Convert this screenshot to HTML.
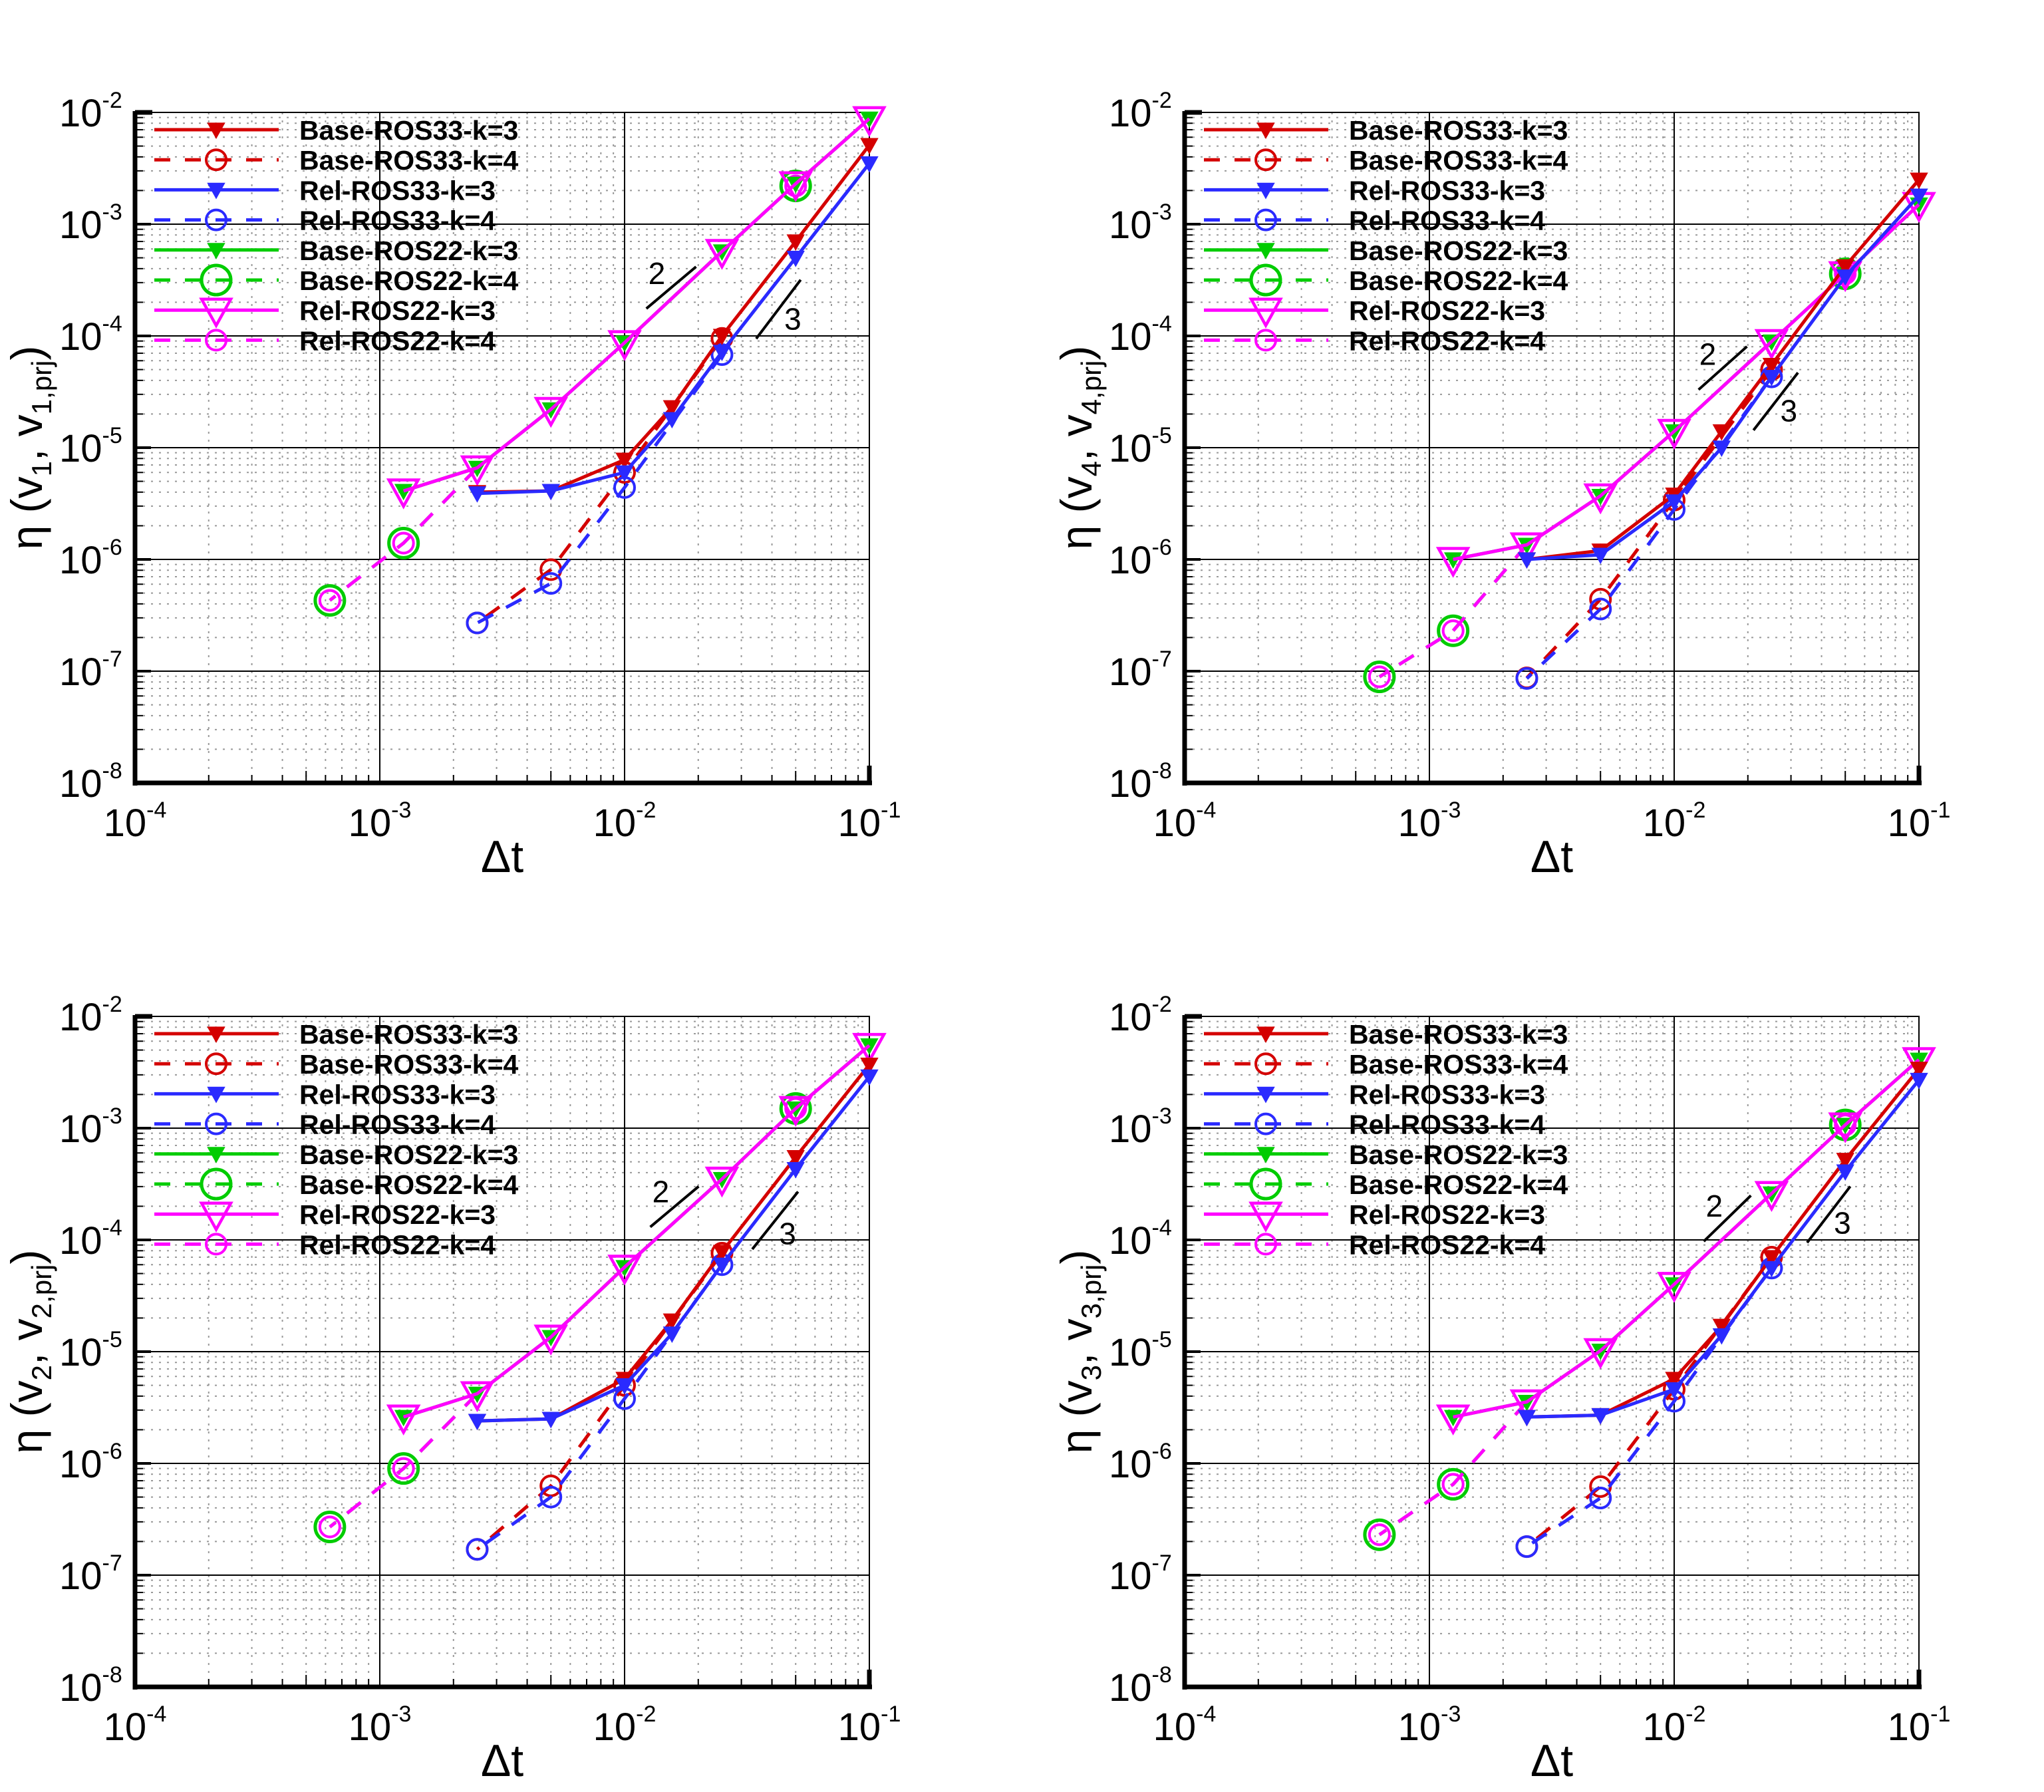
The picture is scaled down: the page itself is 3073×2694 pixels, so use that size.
<!DOCTYPE html>
<html><head><meta charset="utf-8"><style>
html,body{margin:0;padding:0;background:#fff}
svg{display:block}
text{font-family:"Liberation Sans",sans-serif}
</style></head><body>
<svg id="fig" xmlns="http://www.w3.org/2000/svg" width="3073" height="2694" viewBox="0 0 3073 2694"></svg>
<script>
// Δt values
const dtA = [0.1, 0.05, 0.025, 0.015625, 0.01, 0.005, 0.0025];
const dtB = [0.025, 0.01, 0.005, 0.0025];
const dtC = [0.1, 0.05, 0.025, 0.01, 0.005, 0.0025, 0.00125];
const dtE = [0.05, 0.0025, 0.00125, 0.000625];

// Panel v1
const p1_base33k3 = [5.1e-3, 7.0e-4, 1.0e-4, 2.3e-5, 7.8e-6, 4.1e-6, 4.0e-6];
const p1_base33k4 = [9.5e-5, 6.0e-6, 8.1e-7, 2.7e-7];
const p1_rel33k3 = [3.5e-3, 5.0e-4, 7.2e-5, 1.8e-5, 6.0e-6, 4.1e-6, 3.9e-6];
const p1_rel33k4 = [6.8e-5, 4.4e-6, 6.1e-7, 2.7e-7];
const p1_ros22k3 = [8.8e-3, 2.3e-3, 5.7e-4, 8.7e-5, 2.2e-5, 6.6e-6, 4.1e-6];
const p1_ros22k4 = [2.2e-3, 6.6e-6, 1.4e-6, 4.3e-7];
// Panel v4
const p2_base33k3 = [2.5e-3, 4.2e-4, 5.5e-5, 1.4e-5, 3.8e-6, 1.2e-6, 1.0e-6];
const p2_base33k4 = [5.0e-5, 3.4e-6, 4.4e-7, 8.7e-8];
const p2_rel33k3 = [1.8e-3, 3.4e-4, 4.3e-5, 1.0e-5, 3.3e-6, 1.1e-6, 1.0e-6];
const p2_rel33k4 = [4.3e-5, 2.8e-6, 3.6e-7, 8.6e-8];
const p2_ros22k3 = [1.5e-3, 3.6e-4, 8.9e-5, 1.4e-5, 3.7e-6, 1.35e-6, 1.0e-6];
const p2_ros22k4 = [3.6e-4, 1.35e-6, 2.3e-7, 8.9e-8];
// Panel v2
const p3_base33k3 = [3.7e-3, 5.5e-4, 7.8e-5, 1.9e-5, 5.7e-6, 2.5e-6, 2.4e-6];
const p3_base33k4 = [7.6e-5, 5.0e-6, 6.3e-7, 1.7e-7];
const p3_rel33k3 = [2.9e-3, 4.3e-4, 6.0e-5, 1.45e-5, 5.0e-6, 2.5e-6, 2.4e-6];
const p3_rel33k4 = [6.0e-5, 3.8e-6, 5.0e-7, 1.7e-7];
const p3_ros22k3 = [5.5e-3, 1.5e-3, 3.5e-4, 5.7e-5, 1.35e-5, 4.2e-6, 2.6e-6];
const p3_ros22k4 = [1.5e-3, 4.2e-6, 9.0e-7, 2.7e-7];
// Panel v3
const p4_base33k3 = [3.4e-3, 5.2e-4, 7.0e-5, 1.7e-5, 5.7e-6, 2.7e-6, 2.6e-6];
const p4_base33k4 = [7.0e-5, 4.6e-6, 6.2e-7, 1.8e-7];
const p4_rel33k3 = [2.7e-3, 4.1e-4, 5.6e-5, 1.4e-5, 4.6e-6, 2.7e-6, 2.6e-6];
const p4_rel33k4 = [5.6e-5, 3.6e-6, 4.9e-7, 1.8e-7];
const p4_ros22k3 = [4.1e-3, 1.07e-3, 2.6e-4, 4.0e-5, 1.02e-5, 3.55e-6, 2.6e-6];
const p4_ros22k4 = [1.07e-3, 3.55e-6, 6.5e-7, 2.3e-7];

const xTickExps = [-4, -3, -2, -1];
const yTickExps = [-8, -7, -6, -5, -4, -3, -2];
const legendLabels = ["Base-ROS33-k=3","Base-ROS33-k=4","Rel-ROS33-k=3","Rel-ROS33-k=4","Base-ROS22-k=3","Base-ROS22-k=4","Rel-ROS22-k=3","Rel-ROS22-k=4"];

const NS = "http://www.w3.org/2000/svg";
const svg = document.getElementById('fig');
function mk(tag, attrs, parent){const e=document.createElementNS(NS,tag);for(const k in attrs)e.setAttribute(k,attrs[k]);(parent||svg).appendChild(e);return e;}

const PW=1104, PH=1008;
const RED="#d40000", BLUE="#2a2aff", GREEN="#00cc00", MAG="#ff00ff";

function marker(g, type, cx, cy, color){
  let e;
  if(type==='tri'){ const s=12; e=mk('polygon',{points:`${cx-s},${cy-s*0.8} ${cx+s},${cy-s*0.8} ${cx},${cy+s}`,fill:color,stroke:color,'stroke-width':2},g); }
  else if(type==='circ'){ e=mk('circle',{cx:cx,cy:cy,r:15,fill:'none',stroke:color,'stroke-width':4},g); }
  else if(type==='bigcirc'){ e=mk('circle',{cx:cx,cy:cy,r:22,fill:'none',stroke:color,'stroke-width':5},g); }
  else if(type==='bigtri'){ const s=22; e=mk('polygon',{points:`${cx-s},${cy-s*0.75} ${cx+s},${cy-s*0.75} ${cx},${cy+s*1.05}`,fill:'none',stroke:color,'stroke-width':4.5},g); }
  
  
}

const panels = [
  {ox:203, oy:169, sub:'1', sub2:'1,prj', d:[p1_base33k3,p1_base33k4,p1_rel33k3,p1_rel33k4,p1_ros22k3,p1_ros22k4], thumb:{l:104,t:87}, s2:[[495,237],[533,205],[503,210]], s3:[[579,260],[613,215],[607,245]], name:'panel-v1'},
  {ox:1781, oy:169, sub:'4', sub2:'4,prj', d:[p2_base33k3,p2_base33k4,p2_rel33k3,p2_rel33k4,p2_ros22k3,p2_ros22k4], thumb:{l:908,t:87}, s2:[[1301,299],[1338,266],[1308,272]], s3:[[1343,330],[1377,286],[1370,315]], name:'panel-v4'},
  {ox:203, oy:1528, sub:'2', sub2:'2,prj', d:[p3_base33k3,p3_base33k4,p3_rel33k3,p3_rel33k4,p3_ros22k3,p3_ros22k4], thumb:{l:104,t:780}, s2:[[498,941],[535,910],[506,914]], s3:[[576,958],[611,914],[603,946]], name:'panel-v2'},
  {ox:1781, oy:1528, sub:'3', sub2:'3,prj', d:[p4_base33k3,p4_base33k4,p4_rel33k3,p4_rel33k4,p4_ros22k3,p4_ros22k4], thumb:{l:908,t:780}, s2:[[1305,952],[1341,917],[1313,925]], s3:[[1384,953],[1417,910],[1411,938]], name:'panel-v3'}
];

panels.forEach(P=>{
  const g = mk('g',{});
  
  
  const X = v => P.ox + (Math.log10(v)+4)/3*PW;
  const Y = v => P.oy + (-2-Math.log10(v))/6*PH;
  for(let e=-4;e<-1;e++) for(let m=2;m<=9;m++){ const x=X(m*Math.pow(10,e));
    mk('line',{x1:x,y1:P.oy,x2:x,y2:P.oy+PH,stroke:'#999','stroke-width':2,'stroke-dasharray':'3 9'},g);
    mk('line',{x1:x,y1:P.oy+PH,x2:x,y2:P.oy+PH-(m===5?18:12),stroke:'#000','stroke-width':2},g); }
  for(let e=-8;e<-2;e++) for(let m=2;m<=9;m++){ const y=Y(m*Math.pow(10,e));
    mk('line',{x1:P.ox,y1:y,x2:P.ox+PW,y2:y,stroke:'#999','stroke-width':2,'stroke-dasharray':'3 9'},g);
    mk('line',{x1:P.ox,y1:y,x2:P.ox+12,y2:y,stroke:'#000','stroke-width':2},g); }
  xTickExps.forEach(e=>{ const x=X(Math.pow(10,e));
    mk('line',{x1:x,y1:P.oy,x2:x,y2:P.oy+PH,stroke:'#000','stroke-width':2},g);
    const t=mk('text',{x:x,y:P.oy+PH+80,'font-size':58,'text-anchor':'middle'},g);
     
    t.innerHTML=`10<tspan dy="-28" font-size="34">${e}</tspan>`; });
  yTickExps.forEach(e=>{ const y=Y(Math.pow(10,e));
    mk('line',{x1:P.ox,y1:y,x2:P.ox+PW,y2:y,stroke:'#000','stroke-width':2},g);
    mk('line',{x1:P.ox,y1:y,x2:P.ox+24,y2:y,stroke:'#000','stroke-width':4},g);
    const t=mk('text',{x:P.ox-114,y:y+21,'font-size':58,'text-anchor':'start'},g);
     
    t.innerHTML=`10<tspan dy="-28" font-size="34">${e}</tspan>`; });
  mk('rect',{x:P.ox,y:P.oy,width:PW,height:PH,fill:'none',stroke:'#000','stroke-width':2},g);
  mk('line',{x1:P.ox,y1:P.oy-2,x2:P.ox,y2:P.oy+PH+4,stroke:'#000','stroke-width':7},g);
  mk('line',{x1:P.ox-2,y1:P.oy+PH,x2:P.ox+PW+4,y2:P.oy+PH,stroke:'#000','stroke-width':7},g);
  mk('line',{x1:P.ox,y1:P.oy,x2:P.ox+26,y2:P.oy,stroke:'#000','stroke-width':7},g);
  mk('line',{x1:P.ox+PW,y1:P.oy+PH,x2:P.ox+PW,y2:P.oy+PH-26,stroke:'#000','stroke-width':7},g);
  const xt=mk('text',{x:P.ox+PW/2,y:P.oy+PH+134,'font-size':68,'text-anchor':'middle'},g);
   
  xt.textContent='Δt';
  const yt=mk('text',{x:0,y:0,'font-size':66,'text-anchor':'middle',transform:`translate(${P.ox-140},${P.oy+PH/2}) rotate(-90)`},g);
   
  yt.innerHTML=`η (v<tspan dy="14" font-size="42">${P.sub}</tspan><tspan dy="-14">, v</tspan><tspan dy="14" font-size="42">${P.sub2}</tspan><tspan dy="-14">)</tspan>`;
  const sc=3073/1563, tx=px=>P.ox+(px-P.thumb.l)*sc, ty=py=>P.oy+(py-P.thumb.t)*sc;
  [[P.s2,'2'],[P.s3,'3']].forEach(([s,lab])=>{
    const l=mk('line',{x1:tx(s[0][0]),y1:ty(s[0][1]),x2:tx(s[1][0]),y2:ty(s[1][1]),stroke:'#000','stroke-width':4},g);
     
    const t=mk('text',{x:tx(s[2][0]),y:ty(s[2][1])+16,'font-size':46,'text-anchor':'middle'},g);
     
    t.textContent=lab; });
  const series=[
    {dt:dtE,v:P.d[5],c:GREEN,dash:true,m:'bigcirc',n:'base-ros22-k4',lineFrom:1,skip:[1]},
    {dt:dtE,v:P.d[5],c:MAG,dash:true,m:'circ',n:'rel-ros22-k4',lineFrom:1,skip:[1]},
    {dt:dtC,v:P.d[4],c:GREEN,dash:false,m:'tri',n:'base-ros22-k3',lineFrom:0,skip:[]},
    {dt:dtC,v:P.d[4],c:MAG,dash:false,m:'bigtri',n:'rel-ros22-k3',lineFrom:0,skip:[]},
    {dt:dtB,v:P.d[1],c:RED,dash:true,m:'circ',n:'base-ros33-k4',lineFrom:0,skip:[]},
    {dt:dtB,v:P.d[3],c:BLUE,dash:true,m:'circ',n:'rel-ros33-k4',lineFrom:0,skip:[]},
    {dt:dtA,v:P.d[0],c:RED,dash:false,m:'tri',n:'base-ros33-k3',lineFrom:0,skip:[]},
    {dt:dtA,v:P.d[2],c:BLUE,dash:false,m:'tri',n:'rel-ros33-k3',lineFrom:0,skip:[]}
  ];
  series.forEach(s=>{
    const sg=mk('g',{},g);
    
    
    const pts=s.dt.map((d,i)=>[d,s.v[i]]).slice(s.lineFrom).map(p=>X(p[0])+','+Y(p[1])).join(' ');
    const pl=mk('polyline',{points:pts,fill:'none',stroke:s.c,'stroke-width':5,'stroke-dasharray':s.dash?'26 22':'none'},sg);
    
    
    s.dt.forEach((d,i)=>{ if(!s.skip.includes(i)) marker(sg,s.m,X(d),Y(s.v[i]),s.c); });
  });
  const lg=mk('g',{},g);
  
  
  const lc=[RED,RED,BLUE,BLUE,GREEN,GREEN,MAG,MAG], ld=[0,1,0,1,0,1,0,1], lm=['tri','circ','tri','circ','tri','bigcirc','bigtri','circ'];
  legendLabels.forEach((lab,i)=>{
    const y=P.oy+26+i*45.2;
    mk('line',{x1:P.ox+29,y1:y,x2:P.ox+216,y2:y,stroke:lc[i],'stroke-width':5,'stroke-dasharray':ld[i]?'24 22':'none'},lg);
    marker(lg,lm[i],P.ox+122,y,lc[i]);
    const t=mk('text',{x:P.ox+247,y:y+15,'font-size':41,'font-weight':'bold'},lg);
    
    
    t.textContent=lab;
  });
});
</script>
</body></html>
